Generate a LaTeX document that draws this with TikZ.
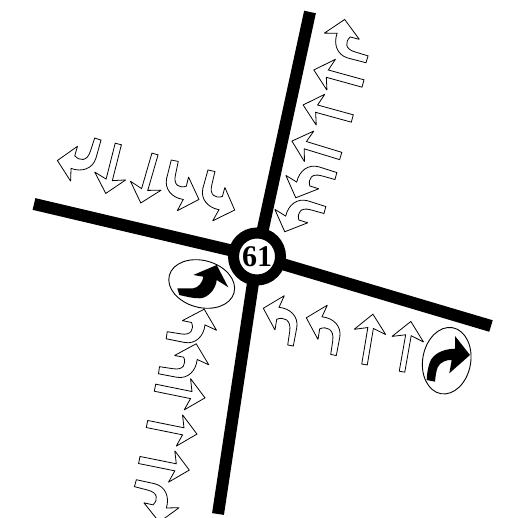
\documentclass[tikz,border=0pt]{standalone}
\usepackage{fontspec}
\usetikzlibrary{shapes.geometric}
\setmainfont{Liberation Serif}
\tikzset{
  x=1pt,y=1pt,
  road/.style={line width=12pt,black},
  arrowline/.style={draw=black,fill=white,line width=0.8pt,line join=miter,miter limit=3},
  signring/.style={draw=black,fill=white,line width=0.9pt},
  pics/straightarrow/.style={code={
    \path[arrowline] (-#1,0) -- (-#1,37) -- (-16,33) -- (0,51) -- (16,33) -- (#1,37) -- (#1,0) -- cycle;}},
  pics/leftarrow/.style={code={
    \path[arrowline] (2.8,-0.5) -- (6.3,18) .. controls (8,29) and (0,37) .. (-11.5,38.2) -- (-6.2,49.8) -- (-27.2,37.2) -- (-15.5,15.5) -- (-13.8,26.2-#1) .. controls (-7,29-#1) and (1-#1,26-#1) .. (-0.8-#1,14) -- (-2.8-#1,0.5) -- cycle;}},
  pics/rightarrow/.style={code={
    \path[arrowline] (-2.8,-0.5) -- (-6.3,18) .. controls (-8,29) and (0,37) .. (11.5,38.2) -- (6.2,49.8) -- (27.2,37.2) -- (15.5,15.5) -- (13.8,26.2-#1) .. controls (7,29-#1) and (-1+#1,26-#1) .. (0.8+#1,14) -- (2.8+#1,0.5) -- cycle;}},
}
\begin{document}
\begin{tikzpicture}
\useasboundingbox (0,0) rectangle (508,518);
\clip (0,0) rectangle (508,518);
% roads
\coordinate (north) at (310,506);
\coordinate (south) at (218,4);
\coordinate (west) at (34,314);
\coordinate (east) at (491,192);
\coordinate (centre) at (257,261.5);
\draw[road] (north) -- (centre);
\draw[road] (south) -- (centre);
\draw[road] (west) -- (centre);
\draw[road] (east) -- (centre);
\node[circle,draw=black,fill=white,line width=11pt,minimum size=47pt,inner sep=0pt,font=\fontsize{30}{30}\selectfont] (hub) at (centre) {\bfseries 61};
% north arm
\path (366.7,458) pic[rotate=64.7] {rightarrow=1.5};
\path (363,434.5) pic[rotate=74.6] {straightarrow=3.8};
\path (352.3,399.5) pic[rotate=74.6] {straightarrow=3.8};
\path (340.7,362) pic[rotate=73] {straightarrow=3.8};
\path (336,342.7) pic[rotate=83] {leftarrow=1.5};
\path (325,308.7) pic[rotate=83] {leftarrow=1.5};
% west arm
\path (98.3,378.7) pic[rotate=153.6] {rightarrow=1};
\path (118.3,374) pic[rotate=165.8] {straightarrow=3.2};
\path (155,364) pic[rotate=163.8] {straightarrow=3.2};
\path (174,357.3) pic[rotate=176.6] {leftarrow=1.5};
\path (210.7,347.3) pic[rotate=175.2] {leftarrow=1.5};
% south arm
\path (166.7,182) pic[rotate=-90.6] {leftarrow=1.5};
\path (159,147) pic[rotate=-90] {leftarrow=1.5};
\path (155,130.3) pic[rotate=-101.5] {straightarrow=3.6};
\path (147,94) pic[rotate=-101.4] {straightarrow=3.6};
\path (139.3,58) pic[rotate=-101.4] {straightarrow=3.6};
\path (135.7,35.5) pic[rotate=-113] {rightarrow=1.5};
% east arm
\path (290.5,172.5) pic {leftarrow=0};
\path (333.5,163) pic {leftarrow=0};
\path (364.5,153.5) pic[rotate=-9.5] {straightarrow=2.8};
\path (402,146.3) pic[rotate=-10] {straightarrow=2.8};
% signs
\node[ellipse,signring,minimum width=67pt,minimum height=47pt,inner sep=0pt,rotate=-15] (signw) at (201.7,234) {};
\fill[black] (179.3,223) .. controls (186,221.5) and (193,219.5) .. (200,219.7) .. controls (208,220) and (216,229) .. (216.7,238) -- (228.3,230.7) -- (216.7,253) -- (193.3,243) -- (203.3,241.3) .. controls (203,236) and (198,230) .. (193.3,229.7) .. controls (188,229.7) and (182,229.7) .. (177.3,229.7) -- cycle;
\node[ellipse,signring,minimum width=48pt,minimum height=67pt,inner sep=0pt,rotate=-10] (signe) at (446.7,157.3) {};
\fill[black] (426.7,138) .. controls (427,146) and (428,150) .. (430,156.3) .. controls (433,163) and (441,169) .. (455,169.3) -- (455,182) -- (470,163) -- (449.3,144.7) -- (451.7,158) .. controls (447,158.5) and (440,156) .. (437.7,150.7) .. controls (436,146) and (435.5,142) .. (435,136.3) -- cycle;
\end{tikzpicture}
\end{document}
